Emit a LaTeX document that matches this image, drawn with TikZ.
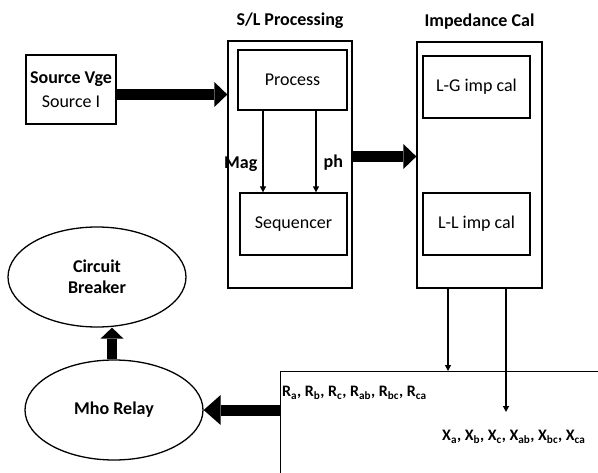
\documentclass[tikz,border=0pt]{standalone}
\usepackage{fontspec}
\setmainfont{Carlito}
\usepackage{tikz}
\usetikzlibrary{shapes,positioning,calc,arrows.meta}

\begin{document}
\fontsize{18}{21}\selectfont
\begin{tikzpicture}[x=1pt,y=-1pt,
    box/.style={draw, line width=1.3pt, inner sep=0pt},
    bubble/.style={draw, ellipse, line width=1.3pt, minimum width=178pt, minimum height=100pt, inner sep=0pt, font=\bfseries},
    vallbl/.style={anchor=west, inner sep=1pt, font=\fontsize{16}{19}\selectfont\bfseries},
    sigarrow/.style={line width=1.2pt, -{Triangle[length=6pt,width=6pt]}},
    bigarrow/.style={line width=11pt, -{Triangle[length=13pt,width=25pt,line width=0pt]}}]
    % Page
    \useasboundingbox (0,0) rectangle (598,472);
    \clip (0,0) rectangle (598,472);

    % Source
    \node[box, minimum width=90pt, minimum height=69pt, align=center] (src) at (71,89.5) {\textbf{Source Vge}\\[3pt]Source I};

    % S/L processing
    \node[box, minimum width=124pt, minimum height=247pt] (sl) at (290,164.5) {};
    \node[font=\bfseries, above=6pt of sl] (sltitle) {S/L Processing};
    \node[box, minimum width=109pt, minimum height=60pt] (proc) at (292.5,80) {Process};
    \node[box, minimum width=107pt, minimum height=62pt] (seq) at (293.5,224) {Sequencer};
    \coordinate (mag) at ([xshift=-29.5pt]proc.south);
    \coordinate (ph) at ([xshift=23.5pt]proc.south);
    \draw[sigarrow] (mag) -- (mag |- seq.north) node[pos=0.66, left=-1pt, font=\bfseries] (maglbl) {Mag};
    \draw[sigarrow] (ph) -- (ph |- seq.north) node[pos=0.64, right=1pt, font=\bfseries] (phlbl) {ph};

    % Impedance calculation
    \node[box, minimum width=125pt, minimum height=246pt] (imp) at (479.5,165) {};
    \node[font=\bfseries, above=6pt of imp] (imptitle) {Impedance Cal};
    \node[box, minimum width=107pt, minimum height=62pt] (lg) at (476.5,87) {L-G imp cal};
    \node[box, minimum width=107pt, minimum height=62pt] (ll) at (476.5,224) {L-L imp cal};

    % R and X values
    \node[box, anchor=north west, minimum width=400pt, minimum height=200pt] (vals) at (280,371) {};
    \node[vallbl] (rlbl) at (281,393) {R\textsubscript{a}, R\textsubscript{b}, R\textsubscript{c}, R\textsubscript{ab}, R\textsubscript{bc}, R\textsubscript{ca}};
    \node[vallbl] (xlbl) at (441,437) {X\textsubscript{a}, X\textsubscript{b}, X\textsubscript{c}, X\textsubscript{ab}, X\textsubscript{bc}, X\textsubscript{ca}};

    % Relay and breaker
    \node[bubble] (mho) at (114,410) {Mho Relay};
    \node[bubble, align=center] (cb) at (97,277) {Circuit\\Breaker};

    % Connections
    \draw[bigarrow] ([yshift=-5pt]src.east) -- ([yshift=-5pt]src.east -| sl.west);
    \draw[bigarrow] ([yshift=8pt]sl.east) -- ([yshift=8pt]sl.east -| imp.west);
    \coordinate (zr) at ([xshift=-31.5pt]imp.south);
    \coordinate (zx) at ([xshift=26.5pt]imp.south);
    \draw[sigarrow] (zr) -- (zr |- vals.north);
    \draw[sigarrow] (zx) -- (zx |- 0,412);
    \draw[bigarrow, -{Triangle[length=17pt,width=30pt,line width=0pt]}] (mho.east -| vals.west) -- (mho.east);
    \draw[bigarrow, line width=10pt, -{Triangle[length=11pt,width=23pt,line width=0pt]}] ([xshift=-2pt]mho.north) -- ([xshift=-2pt]mho.north |- cb.south);
\end{tikzpicture}
\end{document}
